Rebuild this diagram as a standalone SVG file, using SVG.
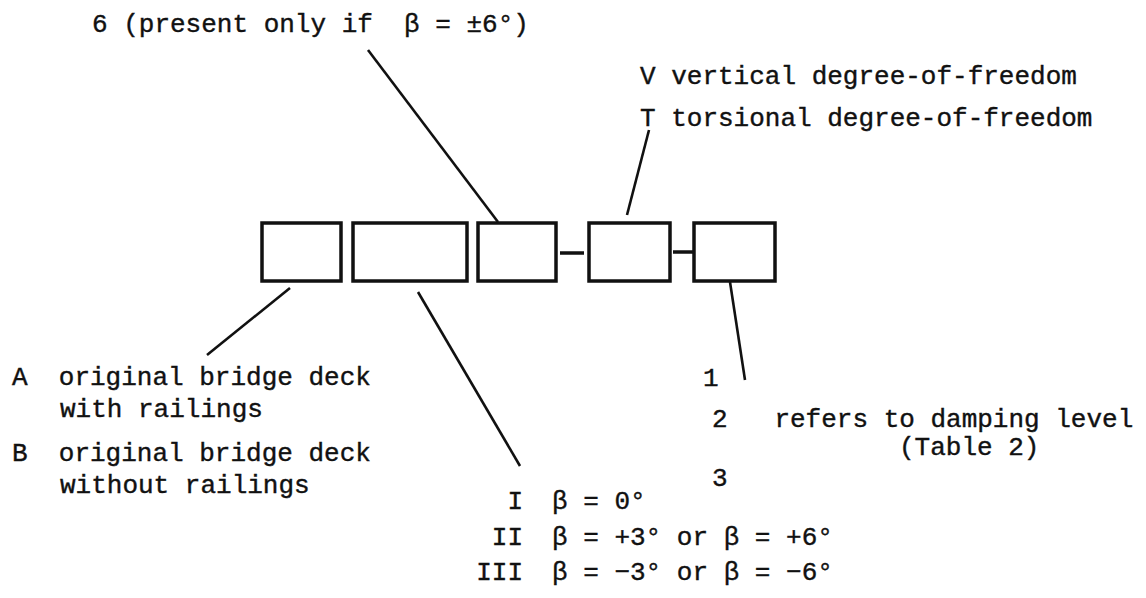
<svg xmlns="http://www.w3.org/2000/svg" width="1146" height="598" viewBox="0 0 1146 598">
<style>
.t{font-family:"Liberation Mono","Courier New",monospace;font-size:26px;fill:#111;stroke:#111;stroke-width:0.4;white-space:pre}
.box{fill:none;stroke:#111;stroke-width:3.5}
.ln{stroke:#111;stroke-width:2.6;fill:none}
</style>
<rect width="1146" height="598" fill="#fff"/>
<g id="boxes">
<g id="box1"><rect class="box" x="262" y="223" width="79" height="58"/></g>
<g id="box2"><rect class="box" x="353" y="223" width="114" height="58"/></g>
<g id="box3"><rect class="box" x="478" y="223" width="78" height="58"/></g>
<g id="box4"><rect class="box" x="589" y="223" width="81" height="58"/></g>
<g id="box5"><rect class="box" x="694" y="223" width="81" height="58"/></g>
</g>
<g id="connectors">
<line class="box" x1="560" y1="253" x2="584" y2="253"/>
<line class="box" x1="673" y1="252" x2="694" y2="252"/>
<line class="ln" x1="368" y1="50" x2="498" y2="222"/>
<line class="ln" x1="649" y1="130" x2="627" y2="215"/>
<line class="ln" x1="290" y1="288" x2="207" y2="355"/>
<line class="ln" x1="418" y1="292" x2="520" y2="466"/>
<line class="ln" x1="730" y1="282" x2="745" y2="380"/>
</g>
<g id="label-6"><text class="t" x="92" y="32">6 (present only if  β = ±6°)</text></g>
<g id="label-V"><text class="t" x="640" y="84">V vertical degree-of-freedom</text></g>
<g id="label-T"><text class="t" x="640" y="126">T torsional degree-of-freedom</text></g>
<g id="label-AB">
<text class="t" x="12" y="385">A  original bridge deck</text>
<text class="t" x="60" y="417">with railings</text>
<text class="t" x="12" y="461">B  original bridge deck</text>
<text class="t" x="60" y="493">without railings</text>
</g>
<g id="label-damping">
<text class="t" x="703" y="386">1</text>
<text class="t" x="712" y="427">2   refers to damping level</text>
<text class="t" x="899" y="455">(Table 2)</text>
<text class="t" x="712" y="486">3</text>
</g>
<g id="label-beta">
<text class="t" x="523" y="509" text-anchor="end">I</text>
<text class="t" x="552" y="509">β = 0°</text>
<text class="t" x="523" y="545" text-anchor="end">II</text>
<text class="t" x="552" y="545">β = +3° or β = +6°</text>
<text class="t" x="523" y="580" text-anchor="end">III</text>
<text class="t" x="552" y="580">β = −3° or β = −6°</text>
</g>
</svg>
